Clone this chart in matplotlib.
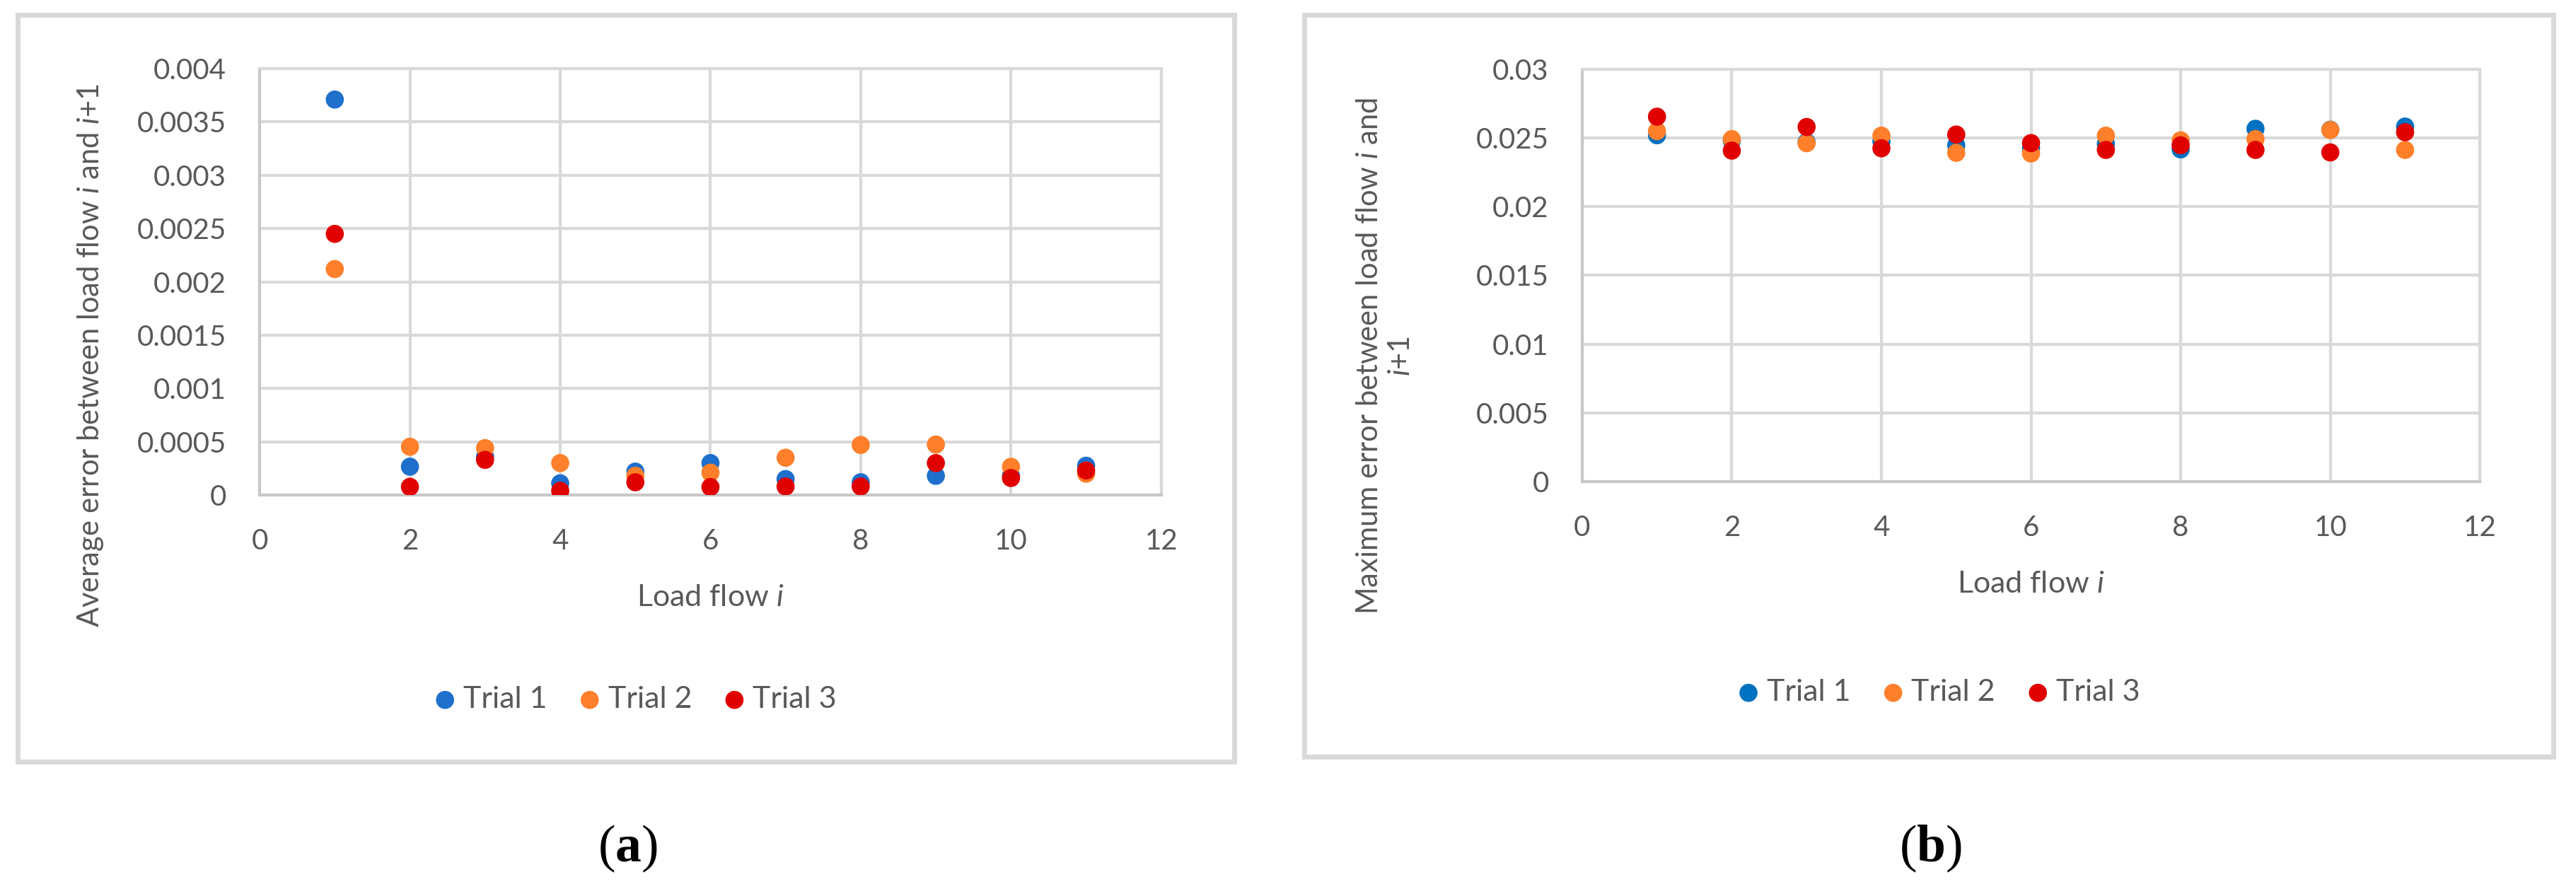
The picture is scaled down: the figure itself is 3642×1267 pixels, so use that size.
import matplotlib.pyplot as plt
from matplotlib.patches import Rectangle
from matplotlib.ticker import FuncFormatter

plt.rcParams['font.family'] = ['Lato', 'DejaVu Sans']
plt.rcParams['mathtext.fontset'] = 'custom'
plt.rcParams['mathtext.it'] = 'Lato:italic'
plt.rcParams['mathtext.rm'] = 'Lato'
plt.rcParams['mathtext.bf'] = 'Liberation Serif:bold'

# Data
load_flow = [1, 2, 3, 4, 5, 6, 7, 8, 9, 10, 11]

avg_trial1 = [0.00371, 0.000266, 0.00036, 0.00011, 0.00022, 0.0003, 0.00015, 0.00012, 0.00018, 0.00018, 0.000275]
avg_trial2 = [0.00212, 0.000453, 0.00044, 0.0003, 0.00018, 0.00021, 0.00035, 0.00047, 0.000474, 0.000265, 0.0002]
avg_trial3 = [0.00245, 0.000077, 0.00033, 0.00004, 0.00012, 0.000075, 0.00008, 0.00008, 0.0003, 0.00016, 0.00023]

max_trial1 = [0.0252, 0.0248, 0.0247, 0.02475, 0.02447, 0.02425, 0.02458, 0.02417, 0.02567, 0.0256, 0.02583]
max_trial2 = [0.0255, 0.02492, 0.02462, 0.02517, 0.02392, 0.02387, 0.02517, 0.02483, 0.02492, 0.02558, 0.02413]
max_trial3 = [0.02655, 0.02408, 0.0258, 0.02425, 0.02525, 0.02463, 0.02413, 0.02447, 0.02413, 0.02395, 0.02542]

trial_names = ['Trial 1', 'Trial 2', 'Trial 3']

text_col = '#595959'
grid_col = '#d9d9d9'

fig = plt.figure(figsize=(36.42, 12.67), dpi=100)

# panel borders
fig.add_artist(Rectangle((25 / 3642, 1 - 1077 / 1267), 1720 / 3642, 1056 / 1267,
                         transform=fig.transFigure, fill=False, edgecolor=grid_col, lw=5))
fig.add_artist(Rectangle((1844 / 3642, 1 - 1070 / 1267), 1766 / 3642, 1049 / 1267,
                         transform=fig.transFigure, fill=False, edgecolor=grid_col, lw=5))

ax1 = fig.add_axes([0.1008, 0.4475, 0.350, 0.4759])
ax2 = fig.add_axes([0.6142, 0.4625, 0.3485, 0.4602])


def style(ax, ymax, ystep, colors, series, ylabel, label_xy, leg_xy):
    for vals, c, name in zip(series, colors, trial_names):
        ax.scatter(load_flow, vals, s=340, color=c, edgecolors='none', zorder=3, label=name)
    ax.set_xlim(0, 12)
    ax.set_ylim(0, ymax)
    ax.set_xticks(range(0, 13, 2))
    ax.set_yticks([i * ystep for i in range(int(round(ymax / ystep)) + 1)])
    ax.yaxis.set_major_formatter(FuncFormatter(lambda v, p: '{:g}'.format(round(v, 6))))
    ax.grid(True, color=grid_col, lw=3)
    ax.set_axisbelow(True)
    for sp in ax.spines.values():
        sp.set_color(grid_col)
        sp.set_linewidth(3)
    ax.spines['left'].set_color('#c8c8c8')
    ax.spines['bottom'].set_color('#c8c8c8')
    ax.tick_params(length=0, labelsize=29, labelcolor=text_col)
    ax.tick_params(axis='y', pad=34)
    ax.tick_params(axis='x', pad=34)
    ax.set_xlabel('Load flow $i$', fontsize=31, color=text_col, labelpad=30)
    ax.set_ylabel(ylabel, fontsize=30, color=text_col, ha='center', multialignment='center')
    ax.yaxis.set_label_coords(*label_xy)
    fig.legend(loc='center', bbox_to_anchor=leg_xy, ncol=3, frameon=False,
               handles=ax.collections, labels=trial_names,
               fontsize=31, labelcolor=text_col, handlelength=0.6, handletextpad=0.3,
               columnspacing=1.1, scatterpoints=1)


style(ax1, 0.004, 0.0005, ['#1f6fcc', '#ff7f2a', '#e00000'],
      [avg_trial1, avg_trial2, avg_trial3],
      'Average error between load flow $i$ and $i$+1', (-0.171, 0.327), (0.247, 0.2194))
style(ax2, 0.03, 0.005, ['#0070c0', '#ff7f2a', '#e00000'],
      [max_trial1, max_trial2, max_trial3],
      'Maximum error between load flow $i$ and\n$i$+1', (-0.187, 0.305), (0.753, 0.2273))

fig.text(887 / 3642, 1 - 1200 / 1267, r'($\mathbf{a}$)', family='Liberation Serif',
         fontsize=53, ha='center', va='center')
fig.text(2729 / 3642, 1 - 1200 / 1267, r'($\mathbf{b}$)', family='Liberation Serif',
         fontsize=53, ha='center', va='center')

fig.savefig('out.png', dpi=100, facecolor='white')
